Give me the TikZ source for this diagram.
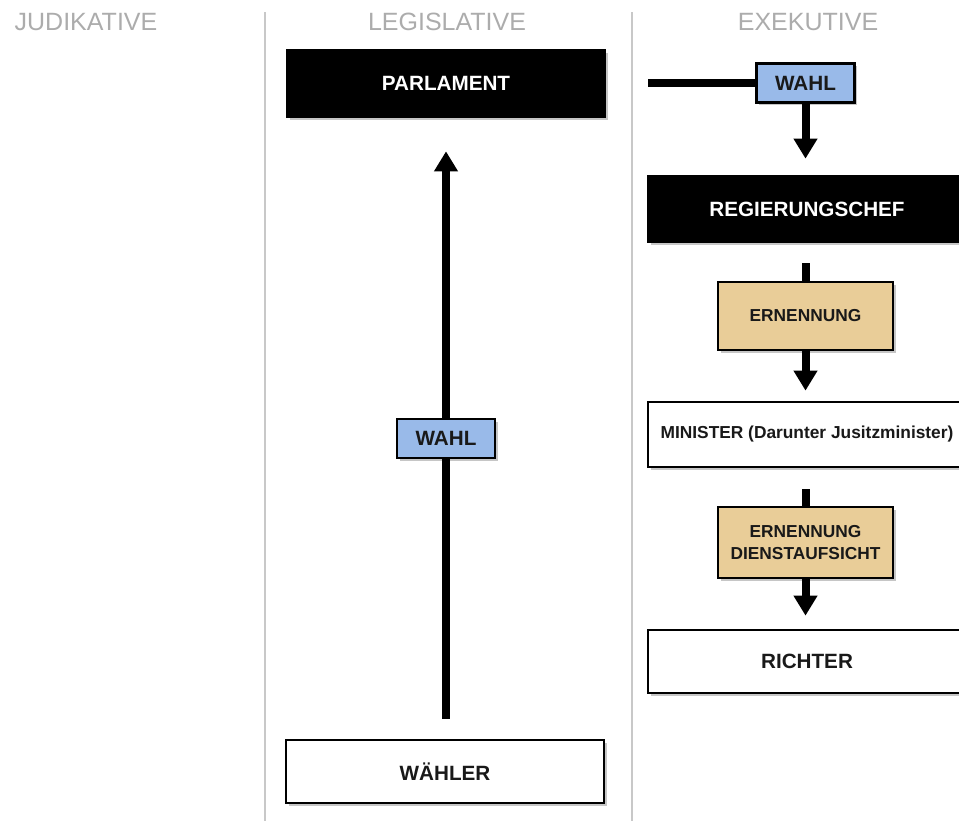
\documentclass[tikz,border=0pt]{standalone}
\usepackage{fontspec}
\setmainfont{Liberation Sans}
\usetikzlibrary{arrows.meta,shadows}

\definecolor{wahlblue}{RGB}{153,186,233}
\definecolor{ernenngold}{RGB}{233,205,152}
\definecolor{headgray}{RGB}{172,172,172}
\definecolor{rulegray}{RGB}{200,200,200}

\tikzset{every picture/.style={line width=0.75pt}}
\tikzset{
  organ/.style={draw=black, line width=2pt, fill=white, text=black!90, align=center,
    font=\fontsize{15.5}{18}\selectfont\bfseries,
    drop shadow={shadow xshift=2pt, shadow yshift=-2pt, opacity=0.45}},
  wide/.style={organ, minimum width=238.5pt},
  chef/.style={wide, fill=black, text=white},
  wahlbox/.style={organ, fill=wahlblue, minimum width=73.5pt, minimum height=29.25pt, inner sep=0pt},
  akt/.style={organ, fill=ernenngold, minimum width=131.25pt, inner sep=0pt,
    font=\fontsize{13}{17}\selectfont\bfseries},
  kopf/.style={text=headgray, font=\fontsize{18.75}{22}\selectfont},
  trenner/.style={draw=rulegray, line width=1.5pt},
  bar/.style={draw=black, line width=6pt},
  pfeil/.style={bar, -{Triangle[width=17pt,length=15pt]}},
}

\begin{document}
\begin{tikzpicture}[x=0.75pt,y=0.75pt,yscale=-1,xscale=1]
	\useasboundingbox (0,0) rectangle (959,821);

	% Column heads
	\node[kopf] (kjud) at (86,22) {JUDIKATIVE};
	\node[kopf] (kleg) at (447,22) {LEGISLATIVE};
	\node[kopf] (kexe) at (808,22) {EXEKUTIVE};

	%Straight Lines [dividers]
	\draw[trenner] (265,12) -- (265,821);
	\draw[trenner] (632,12) -- (632,821);

	% Legislative
	\node[chef, minimum height=50.25pt] (parlament) at (446,83.5) {PARLAMENT};
	\node[wide, minimum height=47.25pt] (waehler) at (445,771.5) {WÄHLER};
	\node[wahlbox] (wahlleg) at (446,438.5) {WAHL};
	\draw[bar, shorten <=15pt] (waehler.north -| wahlleg) -- (wahlleg.south);
	\draw[pfeil, shorten >=24.75pt] (wahlleg.north) -- (wahlleg |- parlament.south);

	% Exekutive
	\coordinate (wahlzufuhr) at (648,83);
	\node[wahlbox] (wahlexe) at (805.5,83) {WAHL};
	\node[chef, minimum height=49.5pt] (regchef) at (807,209) {REGIERUNGSCHEF};
	\node[akt, minimum height=51pt] (ernenn) at (805.5,316) {ERNENNUNG};
	\node[wide, minimum height=48.75pt, font=\fontsize{13}{16}\selectfont\bfseries] (minister) at (807,434.5) {MINISTER (Darunter Jusitzminister)};
	\node[akt, minimum height=53.25pt] (aufsicht) at (805.5,542.5) {ERNENNUNG\\DIENSTAUFSICHT};
	\node[wide, minimum height=47.25pt] (richter) at (807,661.5) {RICHTER};

	\draw[bar] (wahlzufuhr) -- (wahlexe.west);
	\draw[pfeil, shorten >=12pt] (wahlexe.south) -- (wahlexe |- regchef.north);
	\draw[bar, shorten <=15pt] (regchef.south -| ernenn) -- (ernenn.north);
	\draw[pfeil, shorten >=7.5pt] (ernenn.south) -- (ernenn |- minister.north);
	\draw[bar, shorten <=15.75pt] (minister.south -| aufsicht) -- (aufsicht.north);
	\draw[pfeil, shorten >=9.75pt] (aufsicht.south) -- (aufsicht |- richter.north);

\end{tikzpicture}
\end{document}
